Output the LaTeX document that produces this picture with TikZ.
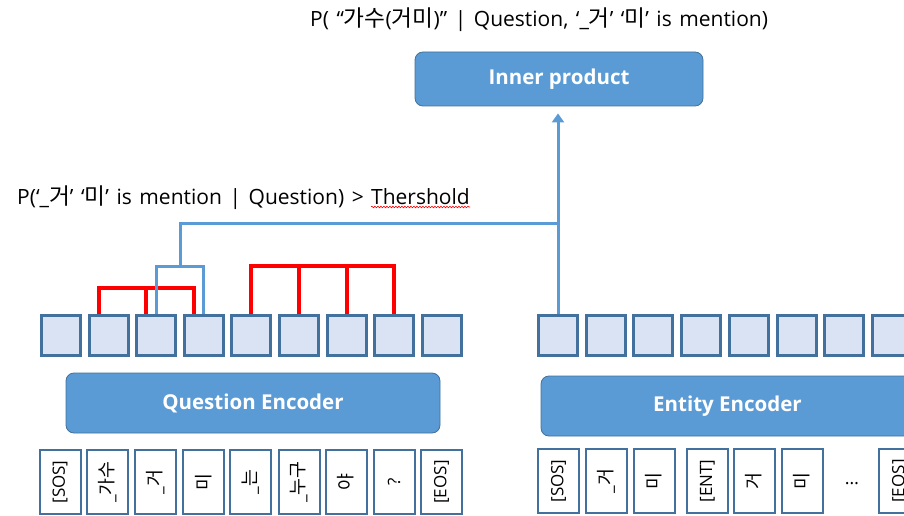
\documentclass[tikz,border=0pt]{standalone}
\usepackage{fontspec}
\setmainfont{Open Sans}
\newfontfamily\kr[Scale=1.08]{Noto Sans CJK KR}
\usetikzlibrary{arrows.meta,decorations.pathmorphing,calc}
\definecolor{boxfill}{HTML}{DAE3F3}
\definecolor{boxline}{HTML}{41719C}
\definecolor{encfill}{HTML}{5B9BD5}
\definecolor{linkblue}{HTML}{5B9BD5}
\definecolor{linkred}{HTML}{FF0000}
\newcommand\captionfont{\fontsize{21}{21}\selectfont\spaceskip=0.36em\relax}
\begin{document}
\begin{tikzpicture}[x=1pt,y=-1pt,
  vec/.style={draw=boxline,fill=boxfill,line width=3pt,minimum width=39pt,minimum height=40pt,inner sep=0pt},
  tok/.style={draw=boxline,fill=white,line width=2pt,rotate=90,minimum width=64pt,minimum height=41pt,inner sep=0pt,font=\fontsize{17}{17}\selectfont},
  enc/.style={draw=boxline,fill=encfill,line width=0.8pt,rounded corners=8pt,text=white,font=\fontsize{20.5}{20.5}\selectfont\bfseries,inner sep=0pt},
  redlink/.style={draw=linkred,line width=4pt},
  bluelink/.style={draw=linkblue,line width=3pt},
  caption/.style={font=\captionfont,inner sep=0pt},
]
\useasboundingbox (0,0) rectangle (904,516);
\clip (0,0) rectangle (904,516);

% encoders and scoring block
\node[enc,minimum width=288pt,minimum height=54pt] (ip) at (559,79) {Inner product};
\node[enc,minimum width=374pt,minimum height=60pt] (qenc) at (253,403) {Question Encoder};
\node[enc,minimum width=373pt,minimum height=60pt] (eenc) at (727.5,406) {Entity Encoder};

% question token embeddings
\foreach \i [evaluate=\i as \x using {61+(\i-1)*47.6}] in {1,...,9}
  \node[vec] (q\i) at (\x,335.5) {};
% entity token embeddings
\foreach \i [evaluate=\i as \x using {558+(\i-1)*47.7}] in {1,...,8}
  \node[vec] (e\i) at (\x,335.5) {};

% question input tokens
\foreach \x/\t [count=\i] in {60/{[SOS]},107.5/{\_\kr 가수},155.5/{\_\kr 거},203.5/{\kr 미},
    250.5/{\_\kr 는},299/{\_\kr 누구},346/{\kr 야},394/{?},441.5/{[EOS]}}
  \node[tok] (qt\i) at (\x,482) {\t};
% entity input tokens
\foreach \x/\t [count=\i] in {558.5/{[SOS]},606/{\_\kr 거},654/{\kr 미},707.5/{[ENT]},
    754/{\kr 거},802/{\kr 미},899.5/{[EOS]}}
  \node[tok] (et\i) at (\x,481) {\t};
\node[font=\fontsize{18}{18}\selectfont,inner sep=0pt,anchor=base] (edots) at (852,484) {…};

% candidate spans over the question tokens
\draw[redlink] ([xshift=-10pt]q2.north) -- ++(0,-26.5) -| ([xshift=-10pt]q4.north);
\draw[redlink] ([xshift=-10pt]q3.north) -- ++(0,-26.5);
\draw[redlink] (q5.north) -- ++(0,-48.5) -| (q8.north);
\draw[redlink] (q6.north) -- ++(0,-48.5);
\draw[redlink] (q7.north) -- ++(0,-48.5);

% selected mention span and its path to the inner product
\draw[bluelink] (q3.north) -- ++(0,-47.5) -| (q4.north);
\coordinate (qjoin) at ($(q3.north)!0.5!(q4.north)+(0,-47.5)$);
\coordinate (lvl) at (0,223);
\coordinate (merge) at (e1.north |- lvl);
\draw[bluelink] (qjoin) |- (merge);
\draw[bluelink,-{Triangle[width=12pt,length=9pt]},shorten >=7pt] (e1.north) -- (e1.north |- ip.south);

% probability captions
\node[caption,anchor=base west] (ptop) at (310,27)
  {P( “{\kr 가수}({\kr 거미})” | Question, ‘\_{\kr 거}’ ‘{\kr 미}’ is mention)};
\node[caption,anchor=base west] (pleft) at (17,204)
  {P(‘\_{\kr 거}’ ‘{\kr 미}’ is mention | Question) >};
\node[caption,anchor=base west] (thr) at ([xshift=7pt]pleft.base east) {Thershold};
\draw[linkred,line width=0.6pt,decorate,decoration={snake,amplitude=0.8pt,segment length=3pt}]
  ([yshift=-3pt]thr.base west) -- ([yshift=-3pt]thr.base east);
\end{tikzpicture}
\end{document}
